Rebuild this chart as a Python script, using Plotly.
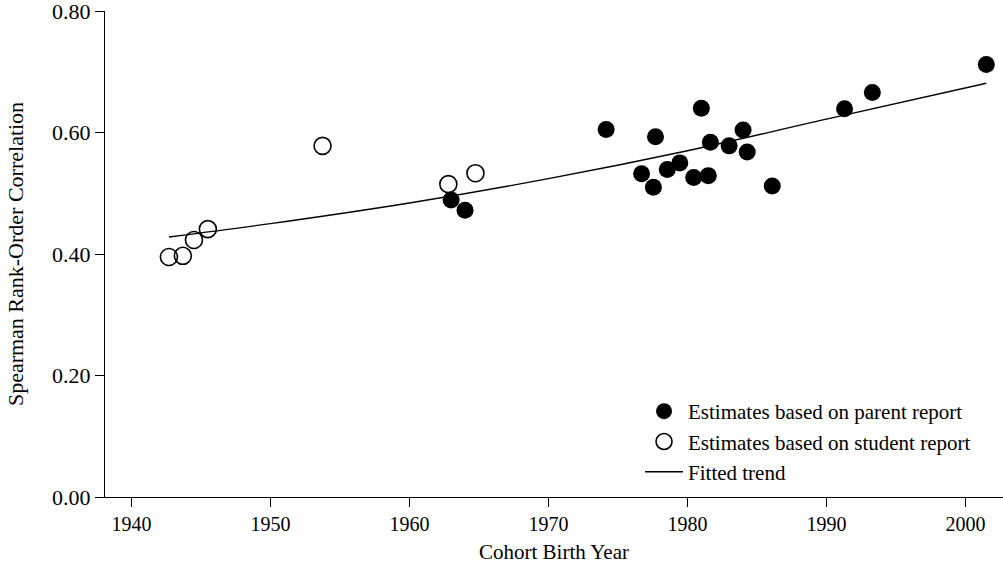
import plotly.graph_objects as go

# Cohort estimates based on parent report
parent_year = [1963.0, 1964.0, 1974.15, 1976.7, 1977.55, 1977.7, 1978.55, 1979.45,
               1980.45, 1981.0, 1981.5, 1981.65, 1983.0, 1984.0, 1984.3, 1986.1,
               1991.3, 1993.3, 2001.5]
parent_rho = [0.489, 0.472, 0.605, 0.532, 0.510, 0.593, 0.539, 0.550,
              0.526, 0.640, 0.529, 0.584, 0.578, 0.604, 0.568, 0.512,
              0.639, 0.666, 0.712]

# Cohort estimates based on student report
student_year = [1942.7, 1943.7, 1944.5, 1945.5, 1953.75, 1962.8, 1964.75]
student_rho = [0.395, 0.397, 0.423, 0.441, 0.578, 0.515, 0.533]

# Fitted trend
trend_year = [1942.7, 1950, 1960, 1970, 1980, 1990, 2001.5]
trend_rho = [0.428, 0.450, 0.484, 0.524, 0.570, 0.622, 0.681]

x_ticks = [1940, 1950, 1960, 1970, 1980, 1990, 2000]
y_ticks = [0.0, 0.2, 0.4, 0.6, 0.8]
y_ticktext = ["0.00", "0.20", "0.40", "0.60", "0.80"]

FONT = "Liberation Serif"

fig = go.Figure()
fig.add_trace(go.Scatter(
    x=student_year, y=student_rho, mode="markers",
    name="Estimates based on student report",
    marker=dict(symbol="circle-open", size=17, color="black", line=dict(width=1.6, color="black")),
    legendrank=2,
))
fig.add_trace(go.Scatter(
    x=trend_year, y=trend_rho, mode="lines",
    name="Fitted trend", line=dict(color="black", width=1.4, shape="spline"),
    legendrank=3,
))
fig.add_trace(go.Scatter(
    x=parent_year, y=parent_rho, mode="markers",
    name="Estimates based on parent report",
    marker=dict(symbol="circle", size=17, color="black", line=dict(width=0)),
    legendrank=1,
))

fig.update_layout(
    width=1003, height=566,
    margin=dict(l=105, r=0, t=11, b=69),
    paper_bgcolor="white", plot_bgcolor="white",
    font=dict(family=FONT, size=20, color="black"),
    showlegend=True,
    legend=dict(x=0.5958, y=0.218, xanchor="left", yanchor="top",
                font=dict(size=21, family=FONT), bgcolor="rgba(0,0,0,0)",
                tracegroupgap=0, itemwidth=38),
    xaxis=dict(
        range=[1938.1, 2002.7], tickvals=x_ticks, ticks="outside", ticklen=9,
        tickwidth=1, tickcolor="black", showline=True, linecolor="black", linewidth=1.3,
        showgrid=False, zeroline=False, tickfont=dict(size=20, family=FONT),
        title=dict(text="Cohort Birth Year", font=dict(size=21, family=FONT), standoff=10),
    ),
    yaxis=dict(
        range=[0, 0.8], tickvals=y_ticks, ticktext=y_ticktext, ticks="outside", ticklen=9,
        tickwidth=1, tickcolor="black", showline=True, linecolor="black", linewidth=1.3,
        showgrid=False, zeroline=False, tickfont=dict(size=22, family=FONT),
        ticklabeloverflow="allow",
        title=dict(text="Spearman Rank-Order Correlation", font=dict(size=22, family=FONT), standoff=22),
    ),
)

fig.write_html("out.html")
